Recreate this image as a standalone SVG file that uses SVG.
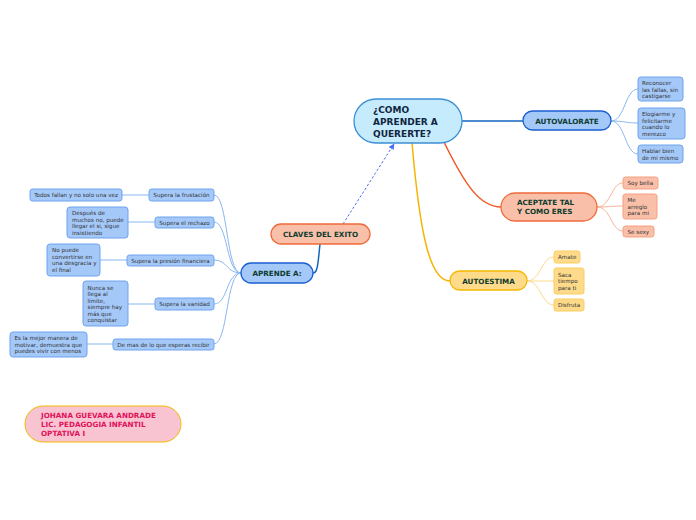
<svg xmlns="http://www.w3.org/2000/svg" width="696" height="520" viewBox="0 0 696 520">
<style>
text{font-family:"DejaVu Sans","Liberation Sans",sans-serif}
.main{font-weight:bold;font-size:7.2px;fill:#0d3b2e}
.sub{font-size:5.6px;fill:#333}
.blue{fill:#a4c8f8;stroke:#6fa4ee;stroke-width:1}
.blueT{fill:#a4c8f8;stroke:#1a5fd1;stroke-width:1.3}
.org{fill:#f9bfa8;stroke:#f4a082;stroke-width:1}
.orgT{fill:#f9bfa8;stroke:#f06a3a;stroke-width:1.3}
.yel{fill:#fedb8a;stroke:#fccc5e;stroke-width:1}
.yelT{fill:#fedb8a;stroke:#f5b800;stroke-width:1.3}
.cb{fill:none;stroke:#8ab8f0;stroke-width:1}
.co{fill:none;stroke:#f8b39a;stroke-width:1}
.cy{fill:none;stroke:#fdd98a;stroke-width:1}
</style>
<defs>
<marker id="ah" viewBox="0 0 10 10" refX="9" refY="5" markerWidth="6" markerHeight="6" orient="auto">
<path d="M0,0 L10,5 L0,10 z" fill="#4a6ff0"/>
</marker>
</defs>
<rect width="696" height="520" fill="#fff"/>
<g id="connectors">
<path d="M462,121 L523,121" fill="none" stroke="#1565c0" stroke-width="1.5"/>
<path d="M444,142 C465,185 480,207 501,207" fill="none" stroke="#f05a28" stroke-width="1.5"/>
<path d="M412,143 C420,235 430,281 450,281" fill="none" stroke="#f5b400" stroke-width="1.5"/>
<path d="M343,224 L394,144" fill="none" stroke="#4a6ff0" stroke-width="1" stroke-dasharray="2.5,2" marker-end="url(#ah)"/>
<path d="M320,244 C318,262 318,273 313,273" fill="none" stroke="#1565c0" stroke-width="1.5"/>
<path class="cb" d="M611,121 C625,121 625,89 638,89"/>
<path class="cb" d="M611,121 C625,121 625,123 638,123"/>
<path class="cb" d="M611,121 C625,121 625,154 638,154"/>
<path class="co" d="M597,207 C611,207 611,183 623,183"/>
<path class="co" d="M597,207 C611,207 611,206 623,206"/>
<path class="co" d="M597,207 C611,207 611,231 623,231"/>
<path class="cy" d="M527,281 C541,281 541,257 554,257"/>
<path class="cy" d="M527,281 C541,281 541,281 554,281"/>
<path class="cy" d="M527,281 C541,281 541,305 554,305"/>
<path class="cb" d="M241,273 C226,273 228,195 214,195"/>
<path class="cb" d="M241,273 C226,273 228,222 214,222"/>
<path class="cb" d="M241,273 C226,273 228,260 214,260"/>
<path class="cb" d="M241,273 C226,273 228,304 214,304"/>
<path class="cb" d="M241,273 C226,273 228,344 214,344"/>
<path class="cb" d="M122,195 L149,195"/>
<path class="cb" d="M128,222 L155,222"/>
<path class="cb" d="M100,260 L127,260"/>
<path class="cb" d="M128,304 L155,304"/>
<path class="cb" d="M87,344 L113,344"/>
</g>
<g id="central">
<rect x="354" y="99" width="108" height="44" rx="22" fill="#c6ebfc" stroke="#3d8fd6" stroke-width="1.3"/>
<text x="373" y="113" font-weight="bold" font-size="9" fill="#10253f">¿COMO</text>
<text x="373" y="125" font-weight="bold" font-size="9" fill="#10253f">APRENDER A</text>
<text x="373" y="137" font-weight="bold" font-size="9" fill="#10253f">QUERERTE?</text>
</g>
<g id="autovalorate">
<rect class="blueT" x="523" y="111" width="88" height="19" rx="9.5"/>
<text class="main" x="567" y="123.5" text-anchor="middle">AUTOVALORATE</text>
</g>
<g id="av1"><rect class="blue" x="638" y="77" width="45" height="24" rx="3"/>
<text class="sub" x="642" y="85">Reconocer</text><text class="sub" x="642" y="91.5">las fallas, sin</text><text class="sub" x="642" y="98">castigarse</text></g>
<g id="av2"><rect class="blue" x="638" y="108" width="47" height="31" rx="3"/>
<text class="sub" x="642" y="116">Elogiarme y</text><text class="sub" x="642" y="122.5">felicitarme</text><text class="sub" x="642" y="129">cuando lo</text><text class="sub" x="642" y="135.5">merezco</text></g>
<g id="av3"><rect class="blue" x="638" y="145" width="45" height="18" rx="3"/>
<text class="sub" x="642" y="153">Hablar bien</text><text class="sub" x="642" y="159.5">de mi mismo</text></g>
<g id="aceptate">
<rect class="orgT" x="501" y="193" width="96" height="28" rx="14"/>
<text class="main" x="517" y="205">ACEPTATE TAL</text>
<text class="main" x="517" y="214">Y COMO ERES</text>
</g>
<g id="ac1"><rect class="org" x="623" y="177" width="35" height="12" rx="2.5"/><text class="sub" x="627.5" y="185">Soy bella</text></g>
<g id="ac2"><rect class="org" x="623" y="194" width="34" height="25" rx="2.5"/>
<text class="sub" x="627.5" y="202">Me</text><text class="sub" x="627.5" y="208.5">arreglo</text><text class="sub" x="627.5" y="215">para mi</text></g>
<g id="ac3"><rect class="org" x="623" y="226" width="31" height="11" rx="2.5"/><text class="sub" x="627.5" y="233.5">Se sexy</text></g>
<g id="autoestima">
<rect class="yelT" x="450" y="271" width="77" height="19" rx="9.5"/>
<text class="main" x="488.5" y="283.5" text-anchor="middle">AUTOESTIMA</text>
</g>
<g id="ae1"><rect class="yel" x="554" y="251" width="26" height="12" rx="2.5"/><text class="sub" x="558" y="259">Amate</text></g>
<g id="ae2"><rect class="yel" x="554" y="268" width="30" height="26" rx="2.5"/>
<text class="sub" x="558" y="276.5">Saca</text><text class="sub" x="558" y="283">tiempo</text><text class="sub" x="558" y="289.5">para ti</text></g>
<g id="ae3"><rect class="yel" x="554" y="299" width="30" height="12" rx="2.5"/><text class="sub" x="558" y="307">Disfruta</text></g>
<g id="claves">
<rect class="orgT" x="271" y="224" width="99" height="20" rx="10"/>
<text class="main" x="320.5" y="236.5" text-anchor="middle">CLAVES DEL EXITO</text>
</g>
<g id="aprende">
<rect class="blueT" x="241" y="263" width="72" height="20" rx="10"/>
<text class="main" x="277" y="275.5" text-anchor="middle">APRENDE A:</text>
</g>
<g id="s1"><rect class="blue" x="149" y="189" width="65" height="12" rx="2.5"/><text class="sub" x="181.5" y="197" text-anchor="middle">Supera la frustación</text></g>
<g id="s2"><rect class="blue" x="155" y="217" width="59" height="11" rx="2.5"/><text class="sub" x="184.5" y="224.5" text-anchor="middle">Supera el rechazo</text></g>
<g id="s3"><rect class="blue" x="127" y="255" width="87" height="11" rx="2.5"/><text class="sub" x="170.5" y="262.5" text-anchor="middle">Supera la presión financiera</text></g>
<g id="s4"><rect class="blue" x="155" y="298" width="59" height="12" rx="2.5"/><text class="sub" x="184.5" y="306" text-anchor="middle">Supera la vanidad</text></g>
<g id="s5"><rect class="blue" x="113" y="339" width="101" height="11" rx="2.5"/><text class="sub" x="163.5" y="346.5" text-anchor="middle">De mas de lo que esperas recibir</text></g>
<g id="l1"><rect class="blue" x="30" y="189" width="92" height="12" rx="2.5"/><text class="sub" x="76" y="197" text-anchor="middle">Todos fallan y no solo una vez</text></g>
<g id="l2"><rect class="blue" x="67" y="207" width="61" height="31" rx="3"/>
<text class="sub" x="72" y="215">Después de</text><text class="sub" x="72" y="221.5">muchos no, puede</text><text class="sub" x="72" y="228">llegar el si, sigue</text><text class="sub" x="72" y="234.5">insistiendo</text></g>
<g id="l3"><rect class="blue" x="47" y="244" width="53" height="32" rx="3"/>
<text class="sub" x="52" y="252">No puede</text><text class="sub" x="52" y="258.5">convertirse en</text><text class="sub" x="52" y="265">una desgracia y</text><text class="sub" x="52" y="271.5">el final</text></g>
<g id="l4"><rect class="blue" x="83" y="281" width="45" height="45" rx="3"/>
<text class="sub" x="87.5" y="289.5">Nunca se</text><text class="sub" x="87.5" y="296">llega al</text><text class="sub" x="87.5" y="302.5">límite,</text><text class="sub" x="87.5" y="309">siempre hay</text><text class="sub" x="87.5" y="315.5">más que</text><text class="sub" x="87.5" y="322">conquistar</text></g>
<g id="l5"><rect class="blue" x="10" y="332" width="77" height="25" rx="3"/>
<text class="sub" x="14.5" y="340">Es la mejor manera de</text><text class="sub" x="14.5" y="346.5">motivar, demuestra que</text><text class="sub" x="14.5" y="353">puedes vivir con menos</text></g>
<g id="autor">
<rect x="25" y="406" width="156" height="36" rx="18" fill="#f9c4d2" stroke="#f5b800" stroke-width="1"/>
<text x="41" y="417.5" font-weight="bold" font-size="7.2" fill="#e0125a">JOHANA GUEVARA ANDRADE</text>
<text x="41" y="426.5" font-weight="bold" font-size="7.2" fill="#e0125a">LIC. PEDAGOGIA INFANTIL</text>
<text x="41" y="435.5" font-weight="bold" font-size="7.2" fill="#e0125a">OPTATIVA I</text>
</g>
</svg>
